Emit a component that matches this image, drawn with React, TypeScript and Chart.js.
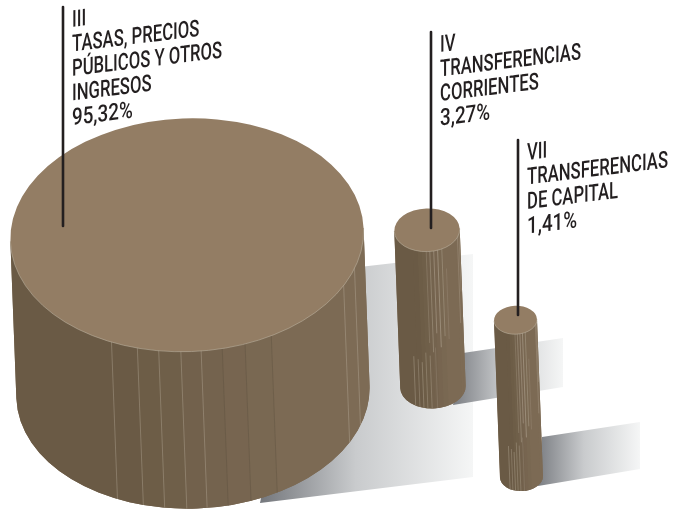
import React, { useEffect, useRef } from "react";
import { Chart, registerables } from "chart.js";

Chart.register(...registerables);

// ---- data ----
const chapters = ["III", "IV", "VII"];
const names = [
  ["TASAS, PRECIOS", "PÚBLICOS Y OTROS", "INGRESOS"],
  ["TRANSFERENCIAS", "CORRIENTES"],
  ["TRANSFERENCIAS", "DE CAPITAL"],
];
const shares = [95.32, 3.27, 1.41];

// ---- layout (the reference has no axes: cylinders are placed freely, area ∝ share) ----
const W = 676;
const H = 509;
const placeX = [187, 427, 515.5];
const placeY = [235, 230, 320];
const RADIUS_PER_SQRT = 18.1;
const ASPECT = 0.66;
const CYL_HEIGHT = 157;
const TILT = -0.038;

const leaderDx = [-124, 4, 2.5];
const leaderBottomDy = [-9, -2, -5];
const leaderLength = [219, 196, 175];
const TEXT_GAP = 9;
const LINE_STEP = 24.5;
const TEXT_SLOPE = -0.122;
const TEXT_XSCALE = 0.71;
const SHARE_XSCALE = 0.8;

// shadow quads relative to the cylinder's top centre: TL, TR, BR, BL
const shadowQuads = [
  [[120, 38], [286, 19], [286, 242], [73, 268]],
  [[36, 123], [136, 108], [136, 157], [26, 175]],
  [[26.5, 117], [124.5, 102], [124.5, 149], [22.5, 166]],
];
const shadowStart = ["#74777c", "#7b7e83", "#7b7e83"];

const TOP = "#937d64";
const DARK = [106, 90, 69];
const LIGHT = [125, 107, 85];
const bigEdges = [-0.45, -0.305, -0.185, -0.06, 0.055, 0.175, 0.305, 0.455, 0.875, 0.94];
const bigLit = [true, true, true, true, true, false, false, false, true, true];
// hairlines on the slim cylinders: t across, from, to (fractions of height), alpha
const slimLines = [
  [-0.05, 0.08, 0.72, 0.25], [0.06, 0.04, 0.78, 0.4], [0.18, 0.02, 0.66, 0.45],
  [0.3, 0.02, 0.75, 0.5], [0.43, 0.03, 0.68, 0.4], [0.55, 0.25, 0.7, 0.2],
  [-0.55, 0.8, 1.2, 0.4], [-0.42, 0.82, 1.2, 0.35], [-0.3, 0.84, 1.2, 0.4],
  [-0.18, 0.78, 1.2, 0.35], [-0.05, 0.8, 1.2, 0.35], [0.12, 0.75, 1.2, 0.2],
  [0.92, 0.02, 0.6, 0.3], [0.97, 0.02, 0.4, 0.25],
];

const rgb = (t: number) => {
  const k = Math.max(0, Math.min(1, (t + 0.45) / 0.95));
  const c = DARK.map((d, i) => Math.round(d + (LIGHT[i] - d) * k));
  return `rgb(${c[0]},${c[1]},${c[2]})`;
};

function drawCylinder(ctx: CanvasRenderingContext2D, x: number, y: number, r: number, index: number) {
  const ry = r * ASPECT;
  const h = CYL_HEIGHT;
  ctx.save();
  ctx.translate(x, y);
  ctx.rotate(TILT);

  ctx.save();
  ctx.beginPath();
  ctx.moveTo(-r, 0);
  ctx.lineTo(-r, h);
  ctx.ellipse(0, h, r, ry, 0, Math.PI, 0, true);
  ctx.lineTo(r, 0);
  ctx.closePath();
  ctx.fillStyle = rgb(1);
  ctx.fill();
  ctx.clip();

  const top = -5;
  const bottom = h + ry + 5;
  let prev = -1.02;
  bigEdges.concat([1.02]).forEach((e) => {
    ctx.fillStyle = rgb(prev);
    ctx.fillRect(prev * r, top, (e - prev) * r + 0.5, bottom - top);
    prev = e;
  });

  if (index === 0) {
    bigEdges.forEach((t, i) => {
      ctx.strokeStyle = bigLit[i] ? "rgba(205,195,178,0.45)" : "rgba(90,78,62,0.5)";
      ctx.lineWidth = 0.7;
      ctx.beginPath();
      ctx.moveTo(t * r, top);
      ctx.lineTo(t * r, bottom);
      ctx.stroke();
    });
  } else {
    slimLines.forEach(([t, a, b, alpha]) => {
      ctx.strokeStyle = `rgba(205,195,178,${alpha})`;
      ctx.lineWidth = 0.8;
      ctx.beginPath();
      ctx.moveTo(t * r, a * h);
      ctx.lineTo(t * r, b * h);
      ctx.stroke();
    });
  }
  ctx.restore();

  ctx.beginPath();
  ctx.ellipse(0, 0, r, ry, 0, 0, Math.PI * 2);
  ctx.fillStyle = TOP;
  ctx.fill();
  ctx.beginPath();
  ctx.ellipse(0, 0, r, ry, 0, 0, Math.PI);
  ctx.strokeStyle = "#b9ae9c";
  ctx.lineWidth = 0.6;
  ctx.stroke();
  ctx.restore();
}

const cylinderPlugin = {
  id: "cylinders",
  beforeDatasetsDraw(chart: any) {
    const ctx: CanvasRenderingContext2D = chart.ctx;
    chart.getDatasetMeta(0).data.forEach((el: any, i: number) => {
      const q = shadowQuads[i];
      const x0 = el.x + q[3][0];
      const x1 = el.x + q[1][0];
      const g = ctx.createLinearGradient(x0, 0, x1, 0);
      g.addColorStop(0, shadowStart[i]);
      g.addColorStop(0.45, "#c9cbcd");
      g.addColorStop(1, "#f5f6f6");
      ctx.fillStyle = g;
      ctx.beginPath();
      q.forEach(([dx, dy], n) => {
        if (n === 0) ctx.moveTo(el.x + dx, el.y + dy);
        else ctx.lineTo(el.x + dx, el.y + dy);
      });
      ctx.closePath();
      ctx.fill();
    });
  },
  afterDatasetsDraw(chart: any) {
    const ctx: CanvasRenderingContext2D = chart.ctx;
    const els = chart.getDatasetMeta(0).data;
    els.forEach((el: any, i: number) => {
      drawCylinder(ctx, el.x, el.y, el.options.radius, i);
    });
    els.forEach((el: any, i: number) => {
      const lx = el.x + leaderDx[i];
      const ly = el.y + leaderBottomDy[i];
      const topY = ly - leaderLength[i];
      ctx.strokeStyle = "#231f20";
      ctx.lineWidth = 2.6;
      ctx.lineCap = "round";
      ctx.beginPath();
      ctx.moveTo(lx, topY);
      ctx.lineTo(lx, ly);
      ctx.stroke();

      const lines = [chapters[i], ...names[i], shares[i].toFixed(2).replace(".", ",") + "%"];
      ctx.fillStyle = "#231f20";
      ctx.font = "500 23.5px Roboto, sans-serif";
      ctx.textAlign = "left";
      ctx.textBaseline = "alphabetic";
      lines.forEach((text, n) => {
        const sx = n === lines.length - 1 ? SHARE_XSCALE : TEXT_XSCALE;
        ctx.save();
        ctx.transform(sx, TEXT_SLOPE * sx, 0, 1, lx + TEXT_GAP, topY + 20 + n * LINE_STEP);
        ctx.fillText(text, 0, 0);
        ctx.restore();
      });
    });
  },
};

export default function App() {
  const ref = useRef<HTMLCanvasElement>(null);
  useEffect(() => {
    const chart = new Chart(ref.current as HTMLCanvasElement, {
      type: "bubble",
      data: {
        labels: chapters,
        datasets: [
          {
            label: "%",
            data: shares.map((s, i) => ({
              x: placeX[i],
              y: placeY[i],
              r: RADIUS_PER_SQRT * Math.sqrt(s),
            })),
            backgroundColor: "rgba(0,0,0,0)",
            borderColor: "rgba(0,0,0,0)",
            borderWidth: 0,
            hoverRadius: 0,
          },
        ],
      },
      options: {
        animation: false,
        responsive: false,
        layout: { padding: 0, autoPadding: false },
        events: [],
        clip: false,
        plugins: { legend: { display: false }, tooltip: { enabled: false } },
        scales: {
          x: { type: "linear", display: false, min: 0, max: W },
          y: { type: "linear", display: false, min: 0, max: H, reverse: true },
        },
      } as any,
      plugins: [cylinderPlugin],
    });
    return () => chart.destroy();
  }, []);
  return (
    <div style={{ position: "absolute", left: 0, top: 0, width: W, height: H, background: "#fff" }}>
      <canvas ref={ref} width={W} height={H} style={{ display: "block" }} />
    </div>
  );
}
